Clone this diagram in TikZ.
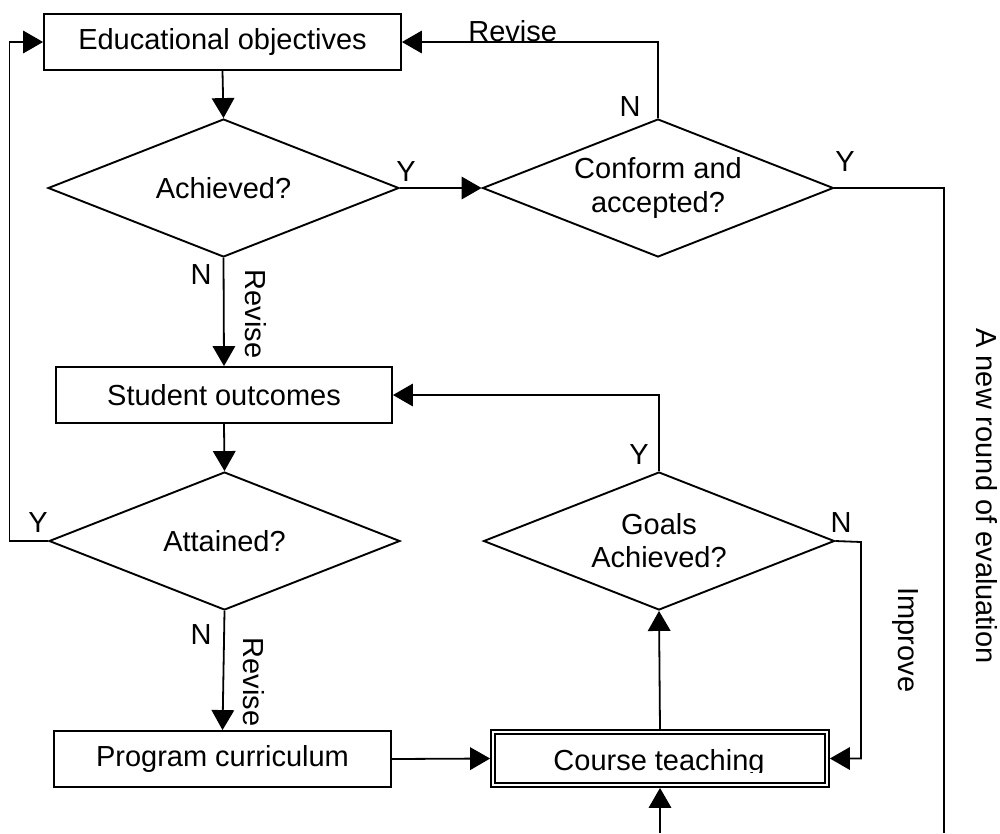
\documentclass[tikz,border=0pt]{standalone}
\usepackage{fontspec}
\setmainfont{Liberation Sans}
\usetikzlibrary{shapes.geometric,arrows.meta}
\begin{document}
\begin{tikzpicture}[x=0.02cm,y=-0.02cm,
  every node/.style={font=\fontsize{16.5}{18.8}\selectfont},
  box/.style={draw, line width=0.038cm, minimum height=1.12cm, inner sep=0pt},
  dbox/.style={draw, line width=0.04cm, double, double distance=0.035cm,
    minimum width=6.68cm, minimum height=1.06cm, outer sep=0.058cm, inner sep=0pt},
  decision/.style={draw, diamond, line width=0.038cm, aspect=2.5, inner sep=0pt,
    minimum width=7.02cm, minimum height=2.76cm, align=center},
  conn/.style={line width=0.036cm},
  arr/.style={conn, -{Triangle[length=0.4cm,width=0.45cm]}},
  lbl/.style={inner sep=0pt},
  vlbl/.style={inner sep=0pt, rotate=-90, anchor=base},
]
\useasboundingbox (0,0) rectangle (1000,833);

% process boxes and decisions
\node[box, minimum width=7.14cm] (eo) at (222.5,42) {Educational objectives};
\node[decision] (ach) at (223.5,188) {Achieved?};
\node[decision] (conf) at (658,188) {Conform and\\accepted?};
\node[box, minimum width=6.72cm] (so) at (224,395) {Student outcomes};
\node[decision] (att) at (224.5,541) {Attained?};
\node[decision] (goals) at (659,541) {Goals\\Achieved?};
\node[box, minimum width=6.74cm] (pc) at (222.5,759) {Program curriculum};
\node[dbox] (ct) at (660,758.5) {};
\begin{scope}
  \clip (490,731) rectangle (830,772);
  \node[lbl, anchor=base] (ctt) at (659,770.7) {Course teaching};
\end{scope}

% bend points of the loops
\coordinate (lft) at (9.5,541);
\coordinate (rgt) at (944,833);
\coordinate (bot) at (660,833);
\coordinate (imp) at (861,542);

% connectors
\draw[arr] (eo.south) -- (ach.north);
\draw[arr] (ach.east) -- (conf.west);
\draw[arr] (conf.north) |- (eo.east);
\draw[conn] (conf.east) -| (rgt);
\draw[arr] (ach.south) -- (so.north);
\draw[arr] (so.south) -- (att.north);
\draw[arr] (att.west) -- (lft) |- (eo.west);
\draw[arr] (att.south) -- (pc.north);
\draw[arr] (pc.east) -- (ct.west);
\draw[arr] (ct.north) -- (goals.south);
\draw[arr] (goals.north) |- (so.east);
\draw[arr] (goals.east) -- (imp) |- (ct.east);
\draw[arr] (bot) -- (ct.south);

% branch labels
\node[lbl] (y1) at (406,172) {Y};
\node[lbl] (n1) at (630,107) {N};
\node[lbl] (y2) at (845,162) {Y};
\node[lbl] (n2) at (201,275) {N};
\node[lbl] (y3) at (38,523) {Y};
\node[lbl] (n3) at (201,635) {N};
\node[lbl] (y4) at (639,455) {Y};
\node[lbl] (n4) at (841,523) {N};
\node[lbl, anchor=base west] (rv1) at (468,41) {Revise};
\node[vlbl] (rv2) at (245,314) {Revise};
\node[vlbl] (rv3) at (243,682) {Revise};
\node[vlbl] (impr) at (898,640) {Improve};
\node[vlbl] (round) at (976,496) {A new round of evaluation};
\end{tikzpicture}
\end{document}
